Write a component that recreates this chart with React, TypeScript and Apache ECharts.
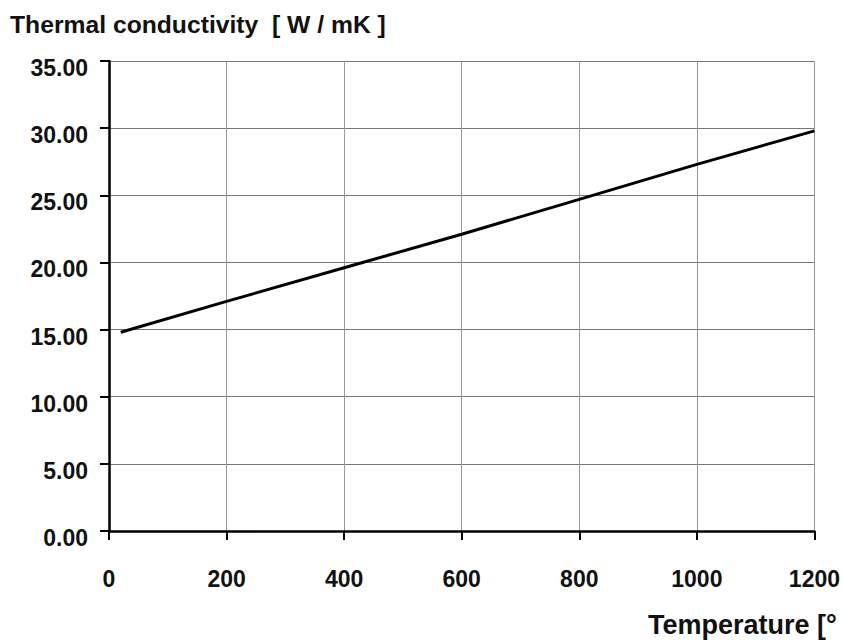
import React, { useEffect, useRef } from "react";
import * as echarts from "echarts";

const temperatures = [20, 200, 400, 600, 800, 1000, 1200];
const conductivity = [14.8, 17.1, 19.6, 22.1, 24.7, 27.3, 29.8];
const yTitle = "Thermal conductivity  [ W / mK ]";
const xTitle = "Temperature [°";

const FONT = "'Liberation Sans', Arial, Helvetica, sans-serif";

export default function App() {
  const ref = useRef<HTMLDivElement>(null);
  useEffect(() => {
    document.body.style.margin = "0";
    const chart = echarts.init(ref.current!, null, { renderer: "svg" });
    chart.setOption({
      animation: false,
      backgroundColor: "#ffffff",
      grid: { left: 109, right: 28, top: 61, bottom: 112, containLabel: false },
      xAxis: {
        type: "value",
        min: 0,
        max: 1200,
        interval: 200,
        axisLine: { show: true, onZero: false, lineStyle: { color: "#000", width: 2.5 } },
        axisTick: { show: true, length: 9, lineStyle: { color: "#000", width: 2 } },
        axisLabel: {
          color: "#111",
          fontFamily: FONT,
          fontWeight: "bold",
          fontSize: 23,
          margin: 36,
          formatter: (v: number) => String(v),
        },
        splitLine: { show: true, lineStyle: { color: "#999", width: 1 } },
      },
      yAxis: {
        type: "value",
        min: 0,
        max: 35,
        interval: 5,
        axisLine: { show: true, lineStyle: { color: "#000", width: 2.5 } },
        axisTick: { show: true, length: 9, lineStyle: { color: "#000", width: 2 } },
        axisLabel: {
          color: "#111",
          fontFamily: FONT,
          fontWeight: "bold",
          fontSize: 23,
          margin: 21,
          formatter: (v: number) => `{v|${v.toFixed(2)}}`,
          rich: {
            v: {
              color: "#111",
              fontFamily: FONT,
              fontWeight: "bold",
              fontSize: 23,
              padding: [14, 0, 0, 0],
            },
          },
        },
        splitLine: { show: true, lineStyle: { color: "#777", width: 1 } },
      },
      graphic: [
        {
          type: "text",
          left: 10,
          top: 12,
          style: { text: yTitle, fill: "#111", font: `bold 24.7px ${FONT}` },
        },
        {
          type: "text",
          left: 648,
          top: 611,
          style: { text: xTitle, fill: "#111", font: `bold 27px ${FONT}` },
        },
      ],
      series: [
        {
          type: "line",
          data: temperatures.map((t, i) => [t, conductivity[i]]),
          showSymbol: false,
          lineStyle: { color: "#000", width: 3 },
        },
      ],
    });
    return () => chart.dispose();
  }, []);
  return <div ref={ref} style={{ position: "absolute", left: 0, top: 0, width: 843, height: 643 }} />;
}
